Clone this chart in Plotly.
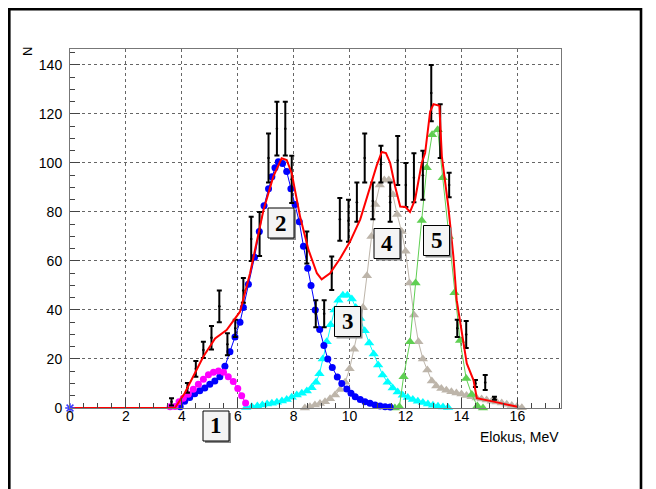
import plotly.graph_objects as go

# ---------------- data ----------------
mag_x = [3.58, 3.76, 3.9, 4.05, 4.23, 4.41, 4.59, 4.77, 4.95, 5.13, 5.31, 5.49, 5.66, 5.84, 6.0, 6.14, 6.28]
mag_y = [0.5, 0.6, 2.5, 4.0, 5.6, 7.7, 9.7, 11.7, 13.6, 14.6, 15.1, 14.6, 12.8, 10.8, 8.0, 5.0, 2.0]

blue_x = [3.94, 4.1, 4.28, 4.46, 4.64, 4.82, 5.0, 5.18, 5.36, 5.54, 5.72, 5.9, 6.08, 6.2, 6.38, 6.6,
          6.77, 6.94, 7.1, 7.22, 7.33, 7.45, 7.6, 7.75, 7.9, 8.05, 8.2, 8.35, 8.5, 8.62, 8.77, 8.93,
          9.08, 9.22, 9.38, 9.56, 9.72, 9.9, 10.05, 10.2, 10.38, 10.55, 10.73, 10.91, 11.09, 11.27, 11.45]
blue_y = [0.5, 2.8, 4.3, 5.8, 7.0, 8.2, 9.7, 11.0, 12.8, 17, 23, 29, 35, 41, 50.5, 61.5,
          72, 82.5, 89.5, 94.4, 98, 100.5, 99.8, 96.5, 89.5, 83, 76, 66, 57, 50, 40, 32,
          25.5, 20, 16.5, 12.7, 10, 7.8, 6, 4.6, 3.5, 2.6, 1.9, 1.2, 0.8, 0.5, 0.4]

cyan_x = [6.3, 6.5, 6.7, 6.88, 7.05, 7.22, 7.4, 7.58, 7.75, 7.93, 8.11, 8.29, 8.47, 8.64, 8.8, 8.92,
          9.04, 9.18, 9.32, 9.46, 9.6, 9.76, 9.92, 10.08, 10.22, 10.38, 10.54, 10.7, 10.86, 11.02,
          11.18, 11.36, 11.54, 11.72, 11.9, 12.08, 12.26, 12.44, 12.62, 12.8, 12.98, 13.16, 13.34, 13.52]
cyan_y = [0.2, 0.5, 0.8, 1.2, 1.6, 1.9, 2.3, 2.9, 3.5, 4.4, 5.3, 6.0, 6.9, 8.3, 10.5, 14,
          20, 27, 34, 40, 44, 46, 46, 44.5, 41, 36.5, 31.5, 26.5, 22, 17.5,
          13.5, 10.5, 8.2, 6.5, 5.2, 4.3, 3.5, 2.8, 2.2, 1.6, 1.1, 0.7, 0.4, 0.2]

gray_x = [8.4, 8.58, 8.76, 8.94, 9.12, 9.3, 9.48, 9.66, 9.84, 10.0, 10.16, 10.32, 10.48, 10.62, 10.78,
          10.92, 11.08, 11.24, 11.4, 11.55, 11.7, 11.86, 12.0, 12.14, 12.3, 12.46, 12.62, 12.78, 12.94,
          13.1, 13.28, 13.46, 13.64, 13.82, 14.0, 14.18, 14.36, 14.54, 14.72, 14.9, 15.08, 15.26, 15.44,
          15.62, 15.8, 15.98, 16.16]
gray_y = [0, 0.5, 1.2, 1.8, 2.6, 3.8, 5.3, 7.5, 10.5, 16, 24, 32, 41, 54, 70,
          83, 91, 93, 93, 87, 79, 72, 64, 51, 38, 27, 20, 15.5, 11,
          9, 8, 7.2, 6.6, 6.1, 5.7, 5.1, 4.6, 4.1, 3.7, 3.3, 2.8, 2.4, 2.0,
          1.5, 1.0, 0.5, 0.1]

green_x = [11.62, 11.78, 11.93, 12.16, 12.36, 12.58, 12.76, 12.95, 13.15, 13.33, 13.55, 13.75, 13.95,
           14.17, 14.37, 14.57, 14.77]
green_y = [0, 0.5, 12.8, 27, 51, 76.5, 98, 111.5, 113.5, 94, 70, 47, 27.5, 12, 5.5, 0.8, 0]

sum_x = [0, 3.75, 4.1, 4.41, 4.77, 5.19, 5.6, 6.08, 6.44, 6.92, 7.27, 7.57, 7.75, 7.93, 8.23, 8.53,
         8.83, 9.0, 9.3, 9.66, 10.02, 10.38, 10.73, 10.97, 11.15, 11.3, 11.45, 11.63, 11.81, 12.0,
         12.16, 12.34, 12.58, 12.7, 12.88, 13.0, 13.21, 13.3, 13.53, 13.71, 13.83, 14.01, 14.19,
         14.43, 14.55, 15.15, 15.6, 16.0]
sum_y = [0, 0, 6, 12.8, 21, 28.4, 31.8, 39.3, 55, 80.8, 94.4, 101.9, 101.2, 95.8, 78, 64.5,
         55, 52.5, 55, 61, 68, 77, 90, 99, 104.5, 104, 100, 90.3, 82.2, 82,
         80, 85, 100, 104, 121, 124, 123.3, 102.6, 82.2, 62, 44, 30.5, 18.2,
         11.4, 4, 2.6, 1.5, 0.5]

data_x = [3.63, 4.2, 4.5, 4.77, 5.06, 5.34, 5.63, 5.91, 6.2, 6.48, 6.78, 7.1, 7.4, 7.7, 7.93,
          8.47, 8.79, 9.09, 9.36, 9.65, 9.96, 10.26, 10.54, 10.83, 11.12, 11.45, 11.72, 12.01,
          12.3, 12.62, 12.92, 13.24, 13.56, 13.85, 14.17, 14.5, 14.85, 15.18]
data_y = [2.5, 8.2, 16, 23.7, 28.7, 41.5, 26, 32.5, 48, 69, 71, 102, 114, 114, 93.3,
          65.5, 38.5, 38.5, 55, 77, 76.4, 84, 102, 84.5, 99.5, 84, 101, 91,
          94, 95, 128.5, 113, 91, 32.5, 30, 10, 10.4, 4]
data_err = [1.5, 2.0, 3.2, 3.3, 4.8, 6.5, 4.5, 3.5, 5, 9, 9, 10, 11, 11, 9.6,
            6.5, 5.5, 5.5, 6.8, 8.7, 8.6, 8, 10, 7.5, 7.5, 8, 10, 9,
            10, 10, 11.5, 11, 5, 3.5, 5.5, 1.4, 3.1, 0.6]

origin_x = [0]
origin_y = [0]

peak_labels = ["1", "2", "3", "4", "5"]

x_ticks = [0, 2, 4, 6, 8, 10, 12, 14, 16]
y_ticks = [0, 20, 40, 60, 80, 100, 120, 140]

# ---------------- figure ----------------
OFF = 8  # page body margin
W, H = 656 - OFF, 489 - OFF
L, T = 70 - OFF, 49 - OFF
R = W - (561 - OFF)
B = H - (408 - OFF)
PW, PH = W - L - R, H - T - B


def pxx(px):
    return (px - OFF - L) / PW


def pxy(py):
    return (H - B - (py - OFF)) / PH


fig = go.Figure()

GRAYC = "#bdb5aa"
GREENC = "#5fcf52"

fig.add_trace(go.Scatter(x=cyan_x, y=cyan_y, mode="lines+markers",
                         line=dict(color="#00ffff", width=1),
                         marker=dict(symbol="triangle-up", size=9, color="#00ffff"),
                         cliponaxis=False))
fig.add_trace(go.Scatter(x=gray_x, y=gray_y, mode="lines+markers",
                         line=dict(color=GRAYC, width=1),
                         marker=dict(symbol="triangle-up", size=9, color=GRAYC),
                         cliponaxis=False))
fig.add_trace(go.Scatter(x=green_x, y=green_y, mode="lines+markers",
                         line=dict(color=GREENC, width=1),
                         marker=dict(symbol="triangle-up", size=9, color=GREENC),
                         cliponaxis=False))
fig.add_trace(go.Scatter(x=blue_x, y=blue_y, mode="lines+markers",
                         line=dict(color="#0000ff", width=1),
                         marker=dict(symbol="circle", size=7, color="#0000ff"),
                         cliponaxis=False))
fig.add_trace(go.Scatter(x=mag_x, y=mag_y, mode="lines+markers",
                         line=dict(color="#ff00ff", width=1),
                         marker=dict(symbol="circle", size=7, color="#ff00ff"),
                         cliponaxis=False))
fig.add_trace(go.Scatter(x=data_x, y=data_y, mode="markers",
                         marker=dict(symbol="circle", size=2.5, color="black"),
                         error_y=dict(type="data", array=data_err, color="black",
                                      thickness=2, width=2.5),
                         cliponaxis=False))
fig.add_trace(go.Scatter(x=sum_x, y=sum_y, mode="lines",
                         line=dict(color="#ff0000", width=2),
                         cliponaxis=False))
fig.add_trace(go.Scatter(x=origin_x, y=origin_y, mode="markers",
                         marker=dict(symbol="asterisk-open", size=8, color="#3a3aff",
                                     line=dict(width=1.5, color="#3a3aff")),
                         cliponaxis=False))

axis_font = dict(family="Liberation Sans, Arial, sans-serif", size=14, color="black")

fig.update_xaxes(range=[0, 17.56], tickvals=x_ticks, ticktext=[str(v) for v in x_ticks],
                 ticks="inside", ticklen=10, tickwidth=1, tickcolor="#444",
                 minor=dict(dtick=0.5, ticks="inside", ticklen=5, tickcolor="#444",
                            showgrid=False),
                 showgrid=True, gridcolor="#666", griddash="dot", gridwidth=1,
                 showline=True, linecolor="#777", linewidth=1, mirror=True,
                 zeroline=False, tickfont=axis_font, ticklabelstandoff=-5)
fig.update_yaxes(range=[0, 146.5], tickvals=y_ticks, ticktext=[str(v) for v in y_ticks],
                 ticks="inside", ticklen=10, tickwidth=1, tickcolor="#444",
                 minor=dict(dtick=5, ticks="inside", ticklen=5, tickcolor="#444",
                            showgrid=False),
                 showgrid=True, gridcolor="#666", griddash="dot", gridwidth=1,
                 showline=True, linecolor="#777", linewidth=1, mirror=True,
                 zeroline=False, tickfont=axis_font, ticklabelstandoff=4)

shapes = []
annotations = []

# outer canvas border: left/top edges sit at the figure's own edge
shapes.append(dict(type="rect", xref="paper", yref="paper",
                   x0=pxx(OFF + 1.3), x1=pxx(641), y0=pxy(510), y1=pxy(OFF + 1.3),
                   line=dict(color="black", width=2.6), fillcolor="rgba(0,0,0,0)", layer="below"))

# peak label boxes (reference pixel positions of centres)
box_centres = [(216, 426), (281, 223), (347.5, 321.5), (387, 243.5), (436.5, 240.5)]
bw, bh = 26, 30
for lab, (cx, cy) in zip(peak_labels, box_centres):
    shapes.append(dict(type="rect", xref="paper", yref="paper",
                       x0=pxx(cx - bw / 2 + 2), x1=pxx(cx + bw / 2 + 2),
                       y0=pxy(cy + bh / 2 + 2), y1=pxy(cy - bh / 2 + 2),
                       line=dict(width=0), fillcolor="#8a8a8a", layer="above"))
    shapes.append(dict(type="rect", xref="paper", yref="paper",
                       x0=pxx(cx - bw / 2), x1=pxx(cx + bw / 2),
                       y0=pxy(cy + bh / 2), y1=pxy(cy - bh / 2),
                       line=dict(color="black", width=1), fillcolor="#f4f4f4", layer="above"))
    annotations.append(dict(text="<b>%s</b>" % lab, xref="paper", yref="paper",
                            x=pxx(cx), y=pxy(cy), xanchor="center", yanchor="middle",
                            showarrow=False,
                            font=dict(family="Liberation Serif, Times New Roman, serif",
                                      size=23, color="black")))

# axis titles
annotations.append(dict(text="N", xref="paper", yref="paper", x=pxx(28), y=pxy(52),
                        xanchor="center", yanchor="middle", textangle=-90, showarrow=False,
                        font=dict(family="Liberation Sans, Arial, sans-serif", size=13,
                                  color="black")))
annotations.append(dict(text="Elokus, MeV", xref="paper", yref="paper", x=pxx(561),
                        y=pxy(437), xanchor="right", yanchor="middle", showarrow=False,
                        font=dict(family="Liberation Sans, Arial, sans-serif", size=14,
                                  color="black")))

fig.update_layout(width=W, height=H, margin=dict(l=L, r=R, t=T, b=B, autoexpand=False),
                  plot_bgcolor="white", paper_bgcolor="white", showlegend=False,
                  shapes=shapes, annotations=annotations)

fig.write_html("out.html")
